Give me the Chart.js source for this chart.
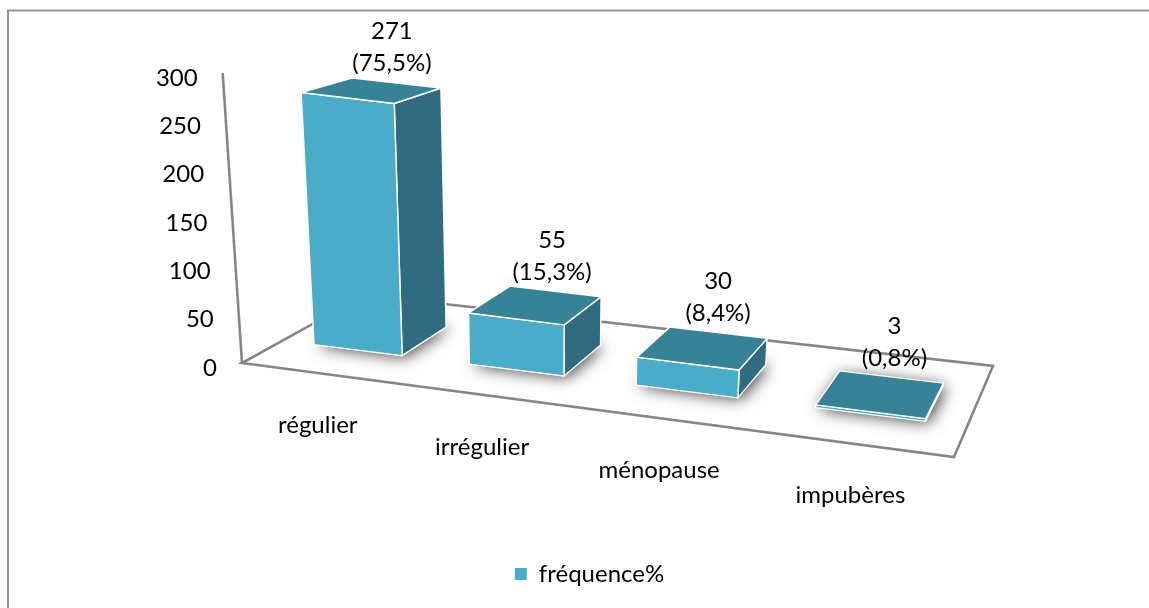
<!DOCTYPE html>
<html>
<head>
<meta charset="utf-8">
<style>
  html, body { margin: 0; padding: 0; background: #fff; }
  canvas { display: block; }
</style>
<script src="https://cdn.jsdelivr.net/npm/chart.js@4"></script>
</head>
<body>
<canvas id="chart" width="1149" height="608"></canvas>
<script>
const categories = ['régulier', 'irrégulier', 'ménopause', 'impubères'];
const frequencies = [271, 55, 30, 3];
const percentLabels = ['(75,5%)', '(15,3%)', '(8,4%)', '(0,8%)'];
const yTicks = [0, 50, 100, 150, 200, 250, 300];
const seriesName = 'fréquence%';

const FONT = 'Lato';
const FRONT = '#4aacc8';
const TOP = '#378297';
const SIDE = '#306b7f';
const LINE = '#868686';

// perspective of the floor, (u, v) in 0..1 to canvas pixels
function floor(u, v) {
    const w = -0.1415 * u + 0.1425 * v + 1;
    return [(577 * u + 175 * v + 242) / w, (29.3 * u - 26 * v + 363) / w];
}

// raise a floor point by h scale pixels, verticals lean a bit
function lift(p, h, v) {
    const rise = h * (1 - 0.125 * v);
    return [p[0] - (545 - p[0]) * 0.00022 * rise, p[1] - rise];
}

function poly(ctx, pts, fill, stroke) {
    ctx.beginPath();
    pts.forEach((p, i) => i ? ctx.lineTo(p[0], p[1]) : ctx.moveTo(p[0], p[1]));
    ctx.closePath();
    if (fill) { ctx.fillStyle = fill; ctx.fill(); }
    if (stroke) { ctx.strokeStyle = stroke; ctx.stroke(); }
}

const V0 = 0.3, V1 = 0.7;

function barCorners(chart, el) {
    const area = chart.chartArea;
    const u0 = (el.x - el.width / 2 - area.left) / area.width;
    const u1 = (el.x + el.width / 2 - area.left) / area.width;
    const h = el.base - el.y;
    const base = [floor(u0, V0), floor(u1, V0), floor(u1, V1), floor(u0, V1)];
    const top = [lift(base[0], h, V0), lift(base[1], h, V0), lift(base[2], h, V1), lift(base[3], h, V1)];
    return { base, top };
}

const bars3d = {
    id: 'bars3d',
    beforeDraw(chart) {
        const ctx = chart.ctx;
        // outer frame of the picture
        ctx.save();
        ctx.strokeStyle = '#999999';
        ctx.lineWidth = 2;
        ctx.beginPath();
        ctx.moveTo(8, 608);
        ctx.lineTo(8, 10.5);
        ctx.lineTo(1149, 10.5);
        ctx.stroke();
        ctx.restore();
    },
    beforeDatasetsDraw(chart) {
        const ctx = chart.ctx;
        const y = chart.scales.y;
        ctx.save();
        ctx.lineWidth = 2.6;
        poly(ctx, [floor(0, 0), floor(1, 0), floor(1, 1), floor(0, 1)], null, LINE);
        const axisTop = lift(floor(0, 0), y.bottom - y.top, 0);
        ctx.beginPath();
        ctx.moveTo(floor(0, 0)[0], floor(0, 0)[1]);
        ctx.lineTo(axisTop[0], axisTop[1]);
        ctx.stroke();
        ctx.restore();
    },
    beforeDatasetDraw(chart, args) {
        const ctx = chart.ctx;
        const els = args.meta.data;
        ctx.save();
        els.forEach(el => {
            const { base, top } = barCorners(chart, el);
            // soft shadow on the floor
            ctx.save();
            ctx.shadowColor = 'rgba(0,0,0,0.8)';
            ctx.shadowBlur = 16;
            ctx.shadowOffsetX = 3;
            ctx.shadowOffsetY = 1;
            poly(ctx, base, '#777777');
            ctx.restore();
            ctx.lineWidth = 1.4;
            ctx.lineJoin = 'round';
            poly(ctx, [base[1], base[2], top[2], top[1]], SIDE, '#ffffff');
            poly(ctx, [base[0], base[1], top[1], top[0]], FRONT, '#ffffff');
            poly(ctx, top, TOP, '#ffffff');
        });
        ctx.restore();
        return false;
    },
    afterDatasetsDraw(chart) {
        const ctx = chart.ctx;
        const y = chart.scales.y;
        const area = chart.chartArea;
        const meta = chart.getDatasetMeta(0);
        ctx.save();
        ctx.font = '24px ' + FONT;
        ctx.fillStyle = '#000000';
        ctx.textBaseline = 'middle';

        // y tick labels follow the leaning axis
        ctx.textAlign = 'right';
        yTicks.forEach(t => {
            const py = y.getPixelForValue(t);
            const p = lift(floor(0, 0), y.bottom - py, 0);
            ctx.fillText(String(t), p[0] - 25, py);
        });

        // category labels below the front edge of the floor
        ctx.textAlign = 'center';
        categories.forEach((c, i) => {
            const u = (meta.data[i].x - area.left) / area.width;
            const p = floor(u, 0);
            ctx.fillText(c, p[0] - 2, p[1] + 52);
        });

        // value labels, above the back corner of each bar
        meta.data.forEach((el, i) => {
            const corner = barCorners(chart, el).top[2];
            ctx.fillText(String(frequencies[i]), corner[0] - 49, corner[1] - 57);
            ctx.fillText(percentLabels[i], corner[0] - 49, corner[1] - 25);
        });
        ctx.restore();
    }
};

new Chart(document.getElementById('chart'), {
    type: 'bar',
    data: {
        labels: categories,
        datasets: [{
            label: seriesName,
            data: frequencies,
            backgroundColor: FRONT,
            categoryPercentage: 1,
            barPercentage: 0.576
        }]
    },
    options: {
        responsive: false,
        animation: false,
        layout: { padding: { left: 100, right: 70, top: 78, bottom: 12 } },
        scales: {
            x: {
                grid: { display: false },
                border: { display: false },
                ticks: { display: false },
                afterFit: s => { s.height = 184; }
            },
            y: {
                min: 0,
                max: 300,
                grid: { display: false },
                border: { display: false },
                ticks: { display: false, stepSize: 50 }
            }
        },
        plugins: {
            legend: {
                position: 'bottom',
                labels: { boxWidth: 12, boxHeight: 12, padding: 10, color: '#000000', font: { family: FONT, size: 24 } }
            },
            tooltip: { enabled: false }
        }
    },
    plugins: [bars3d]
});
</script>
</body>
</html>
